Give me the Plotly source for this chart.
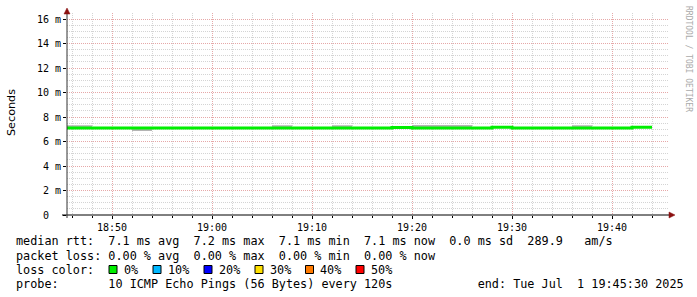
import plotly.graph_objects as go

# ---------------- data ----------------
# segment boundaries (every 120 s), 31 boundaries -> 30 segments
times = ["2025-07-01 18:44:00", "2025-07-01 18:46:00", "2025-07-01 18:48:00", "2025-07-01 18:50:00",
         "2025-07-01 18:52:00", "2025-07-01 18:54:00", "2025-07-01 18:56:00", "2025-07-01 18:58:00",
         "2025-07-01 19:00:00", "2025-07-01 19:02:00", "2025-07-01 19:04:00", "2025-07-01 19:06:00",
         "2025-07-01 19:08:00", "2025-07-01 19:10:00", "2025-07-01 19:12:00", "2025-07-01 19:14:00",
         "2025-07-01 19:16:00", "2025-07-01 19:18:00", "2025-07-01 19:20:00", "2025-07-01 19:22:00",
         "2025-07-01 19:24:00", "2025-07-01 19:26:00", "2025-07-01 19:28:00", "2025-07-01 19:30:00",
         "2025-07-01 19:32:00", "2025-07-01 19:34:00", "2025-07-01 19:36:00", "2025-07-01 19:38:00",
         "2025-07-01 19:40:00", "2025-07-01 19:42:00", "2025-07-01 19:44:00"]
# median rtt per segment (ms)
median_ms = [7.10, 7.10, 7.10, 7.11, 7.10, 7.10, 7.10, 7.11, 7.10, 7.10,
             7.10, 7.11, 7.10, 7.10, 7.11, 7.10, 7.10, 7.15, 7.11, 7.11,
             7.11, 7.10, 7.16, 7.10, 7.10, 7.10, 7.10, 7.10, 7.10, 7.17]
# smoke (spread of pings) per segment (ms)
smoke_lo = [7.07, 7.07, 7.07, 7.08, 6.86, 7.07, 7.07, 7.08, 7.07, 7.07,
            7.07, 7.08, 7.07, 7.07, 7.08, 7.07, 7.07, 7.12, 7.08, 7.08,
            7.08, 7.07, 7.13, 7.07, 7.07, 7.07, 7.07, 7.07, 7.07, 7.14]
smoke_hi = [7.34, 7.34, 7.13, 7.14, 7.13, 7.13, 7.13, 7.14, 7.13, 7.13,
            7.13, 7.34, 7.13, 7.13, 7.34, 7.13, 7.13, 7.18, 7.35, 7.35,
            7.35, 7.13, 7.19, 7.13, 7.13, 7.13, 7.33, 7.13, 7.13, 7.20]

y_tickvals = [0, 2, 4, 6, 8, 10, 12, 14, 16]
y_ticktext = ["0\u00a0\u00a0", "2 m", "4 m", "6 m", "8 m", "10 m", "12 m", "14 m", "16 m"]

rtt_avg, rtt_max, rtt_min, rtt_now, rtt_sd, am_s = 7.1, 7.2, 7.1, 7.1, 0.0, 289.9
loss_avg, loss_max, loss_min, loss_now = 0.00, 0.00, 0.00, 0.00
loss_labels = ["0%", "10%", "20%", "30%", "40%", "50%"]
loss_colors = ["#00ee00", "#00b8ff", "#0000ff", "#ffe000", "#ff7a00", "#ff0000"]
probe_text = "10 ICMP Echo Pings (56 Bytes) every 120s"
end_text = "end: Tue Jul  1 19:45:30 2025"

# ---------------- layout geometry ----------------
W, H = 697, 297
L, R, T, B = 67, 668, 13, 215


def xp(px):
    return (px - L) / (R - L)


def yp(py):
    return (B - py) / (B - T)


def nb(s):
    return s.replace(" ", "\u00a0")


MONO = "DejaVu Sans Mono"

fig = go.Figure()

# smoke
fig.add_trace(go.Scatter(x=times, y=smoke_lo + [smoke_lo[-1]], mode="lines", line=dict(width=0, shape="hv"),
                         hoverinfo="skip", showlegend=False))
fig.add_trace(go.Scatter(x=times, y=smoke_hi + [smoke_hi[-1]], mode="lines", line=dict(width=0, shape="hv"),
                         fill="tonexty", fillcolor="#b4b4b4", hoverinfo="skip", showlegend=False))
# median line
fig.add_trace(go.Scatter(x=times, y=median_ms + [median_ms[-1]], mode="lines",
                         line=dict(color="#00ee00", width=3, shape="hv"), showlegend=False))

grid_minor = "#d4d4d4"
grid_major = "#e6a8a8"

fig.update_xaxes(
    type="date",
    range=["2025-07-01 18:45:30", "2025-07-01 19:45:36"],
    tick0="2025-07-01 18:50:00", dtick=600000, tickformat="%H:%M",
    showgrid=True, gridcolor=grid_major, griddash="1px,1px", gridwidth=1,
    ticks="outside", ticklen=3, tickcolor="#000",
    tickfont=dict(family=MONO, size=10, color="#000"),
    showline=False, zeroline=False,
    minor=dict(dtick=120000, tick0="2025-07-01 18:50:00", showgrid=True, gridcolor=grid_minor,
               griddash="1px,1px", gridwidth=1, ticks="outside", ticklen=2, tickcolor="#000"),
)
fig.update_yaxes(
    range=[0, 16.5],
    tickvals=y_tickvals, ticktext=y_ticktext,
    showgrid=True, gridcolor=grid_major, griddash="1px,1px", gridwidth=1,
    ticks="outside", ticklen=3, tickcolor="#000",
    tickfont=dict(family=MONO, size=10, color="#000"),
    showline=False, zeroline=False,
    minor=dict(dtick=0.5, showgrid=True, gridcolor=grid_minor, griddash="1px,1px", gridwidth=1),
)

shapes = []
# axes lines
shapes.append(dict(type="line", xref="paper", yref="paper", x0=xp(62), x1=xp(670), y0=yp(215), y1=yp(215),
                   line=dict(color="#000", width=1)))
shapes.append(dict(type="line", xref="paper", yref="paper", x0=xp(67), x1=xp(67), y0=yp(218), y1=yp(12),
                   line=dict(color="#333", width=1)))
# arrows
shapes.append(dict(type="path", xref="paper", yref="paper",
                   path=f"M {xp(64)} {yp(14)} L {xp(67)} {yp(8)} L {xp(70)} {yp(14)} Z",
                   fillcolor="#8b1010", line=dict(color="#8b1010", width=0.5)))
shapes.append(dict(type="path", xref="paper", yref="paper",
                   path=f"M {xp(669)} {yp(212)} L {xp(675)} {yp(215)} L {xp(669)} {yp(218)} Z",
                   fillcolor="#8b1010", line=dict(color="#8b1010", width=0.5)))

annotations = []


def text(px, py, s, size=11.8, family=MONO, color="#000", anchor="left", angle=0):
    annotations.append(dict(xref="paper", yref="paper", x=xp(px), y=yp(py), text=nb(s), showarrow=False,
                            xanchor=anchor, yanchor="middle", borderpad=0, borderwidth=0, textangle=angle,
                            font=dict(family=family, size=size, color=color)))


line1 = (f"median rtt:  {rtt_avg:.1f} ms avg  {rtt_max:.1f} ms max  {rtt_min:.1f} ms min  "
         f"{rtt_now:.1f} ms now  {rtt_sd:.1f} ms sd  {am_s:.1f}   am/s")
line2 = f"packet loss: {loss_avg:.2f} % avg  {loss_max:.2f} % max  {loss_min:.2f} % min  {loss_now:.2f} % now"
line4 = "probe:       " + probe_text + " " * 12 + end_text

text(16, 241.5, line1)
text(16, 255.5, line2)
text(16, 269.5, "loss color:")
text(16, 283.5, line4)

box_x = [109, 153, 204, 255, 305.5, 356]
for bx, lab, col in zip(box_x, loss_labels, loss_colors):
    shapes.append(dict(type="rect", xref="paper", yref="paper", x0=xp(bx), x1=xp(bx + 8),
                       y0=yp(273.5), y1=yp(265.5), fillcolor=col, line=dict(color="#000", width=1)))
    text(bx + 14.5, 269.5, lab)

# y-axis title
text(11, 113, "Seconds", size=11.2, family="DejaVu Sans", anchor="center", angle=-90)
# watermark
text(688, 59, "RRDTOOL / TOBI OETIKER", size=8, family=MONO, color="#aaaaaa", anchor="center", angle=90)

fig.update_layout(
    width=W, height=H,
    margin=dict(l=L, r=W - R, t=T, b=H - B, pad=0),
    paper_bgcolor="#ffffff", plot_bgcolor="#ffffff",
    shapes=shapes, annotations=annotations,
    showlegend=False,
)

fig.write_html("out.html")
